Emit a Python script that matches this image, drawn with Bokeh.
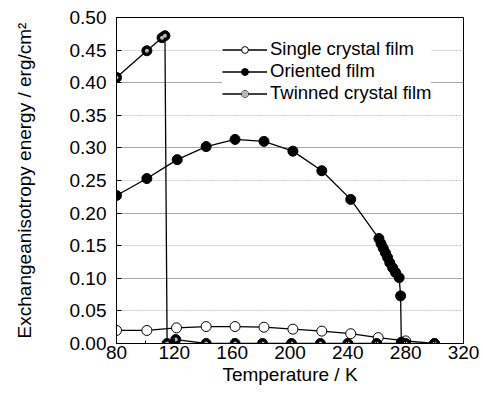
from bokeh.plotting import figure
from bokeh.models import (Range1d, SingleIntervalTicker, FixedTicker, Grid, Legend, LegendItem,
                          CustomJSTickFormatter)
from bokeh.embed import file_html
from bokeh.resources import INLINE

# ---- data ----
single_T = [80, 101, 121.5, 142, 162, 182, 202, 222, 242, 261, 280, 300]
single_E = [0.020, 0.020, 0.024, 0.026, 0.026, 0.025, 0.022, 0.019, 0.015, 0.009, 0.004, 0.000]

oriented_T = [80, 101, 122, 142, 162, 182, 202, 222, 242, 261.5, 263, 264.5, 266, 267.5,
              269, 271, 273, 275.5, 276.5, 277]
oriented_E = [0.227, 0.253, 0.282, 0.302, 0.313, 0.310, 0.295, 0.265, 0.221, 0.161, 0.153,
              0.146, 0.139, 0.132, 0.124, 0.116, 0.109, 0.101, 0.073, 0.002]

twinned_T = [80, 101, 111.5, 113.5, 115, 121, 142, 162, 181, 201, 221, 240, 260, 280, 300]
twinned_E = [0.408, 0.449, 0.469, 0.472, 0.000, 0.006, 0.000, 0.000, 0.000, 0.000, 0.000,
             0.000, 0.000, 0.000, 0.000]

y_major_grid = [0.1, 0.2, 0.3, 0.4]
y_minor_grid = [0.05, 0.15, 0.25, 0.35, 0.45]

FONT = "Liberation Sans"

p = figure(width=483, height=393, output_backend="svg", toolbar_location=None,
           x_range=Range1d(80, 320), y_range=Range1d(0, 0.5),
           min_border_left=116, min_border_right=20, min_border_top=17, min_border_bottom=50)

p.outline_line_color = "black"
p.outline_line_width = 1
p.background_fill_color = "white"

# axes
p.xaxis.ticker = SingleIntervalTicker(interval=40, num_minor_ticks=2)
p.yaxis.ticker = SingleIntervalTicker(interval=0.05, num_minor_ticks=0)
for ax in (p.xaxis[0], p.yaxis[0]):
    ax.major_tick_in = 5
    ax.major_tick_out = 0
    ax.minor_tick_in = 3
    ax.minor_tick_out = 0
    ax.axis_line_color = "black"
    ax.major_tick_line_color = "black"
    ax.minor_tick_line_color = "black"
    ax.major_label_text_font = FONT
    ax.major_label_text_font_size = "19px"
    ax.major_label_text_color = "black"
    ax.axis_label_text_font = FONT
    ax.axis_label_text_font_size = "19px"
    ax.axis_label_text_font_style = "normal"
    ax.axis_label_text_color = "black"
p.yaxis.minor_tick_line_color = None
p.yaxis.formatter = CustomJSTickFormatter(code="return tick.toFixed(2);")
p.xaxis.axis_label = "Temperature / K"
p.yaxis.axis_label = "Exchangeanisotropy energy / erg/cm\u00b2"
p.xaxis.major_label_standoff = 2
p.xaxis.axis_label_standoff = 2
p.yaxis.major_label_standoff = 10
p.yaxis.axis_label_standoff = 32

# grids
p.xgrid.grid_line_color = None
p.ygrid.ticker = FixedTicker(ticks=y_major_grid)
p.ygrid.grid_line_color = "#a8a8a8"
p.ygrid.grid_line_width = 1
minor = Grid(dimension=1, ticker=FixedTicker(ticks=y_minor_grid),
             grid_line_color="#c8c8c8", grid_line_dash="2 1", grid_line_width=1)
p.add_layout(minor)

# series
l1 = p.line(single_T, single_E, line_color="black", line_width=1.3)
m1 = p.scatter(single_T, single_E, size=10, marker="circle", fill_color="white",
               line_color="black", line_width=1)

l2 = p.line(oriented_T, oriented_E, line_color="black", line_width=1.3)
m2 = p.scatter(oriented_T, oriented_E, size=10, marker="circle", fill_color="black",
               line_color="black")

l3 = p.line(twinned_T, twinned_E, line_color="black", line_width=1.3)
m3 = p.scatter(twinned_T, twinned_E, size=10, marker="circle", fill_color="black",
               line_color="black")
m3b = p.scatter(twinned_T, twinned_E, size=4, marker="circle", fill_color="#b8b8b8",
                line_color=None)

legend = Legend(items=[
    LegendItem(label="Single crystal film", renderers=[l1, m1]),
    LegendItem(label="Oriented film", renderers=[l2, m2]),
    LegendItem(label="Twinned crystal film", renderers=[l3, m3, m3b]),
], location=(106, 239))
legend.label_text_font = FONT
legend.label_text_font_size = "18.5px"
legend.label_text_line_height = 0.6
legend.label_text_color = "black"
legend.glyph_width = 45
legend.glyph_height = 17
legend.label_height = 17
legend.label_standoff = 3
legend.spacing = -4
legend.padding = 22
legend.margin = 0
legend.border_line_color = None
legend.background_fill_color = "white"
legend.background_fill_alpha = 1.0
p.add_layout(legend)

open("out.html", "w").write(file_html(p, INLINE))
